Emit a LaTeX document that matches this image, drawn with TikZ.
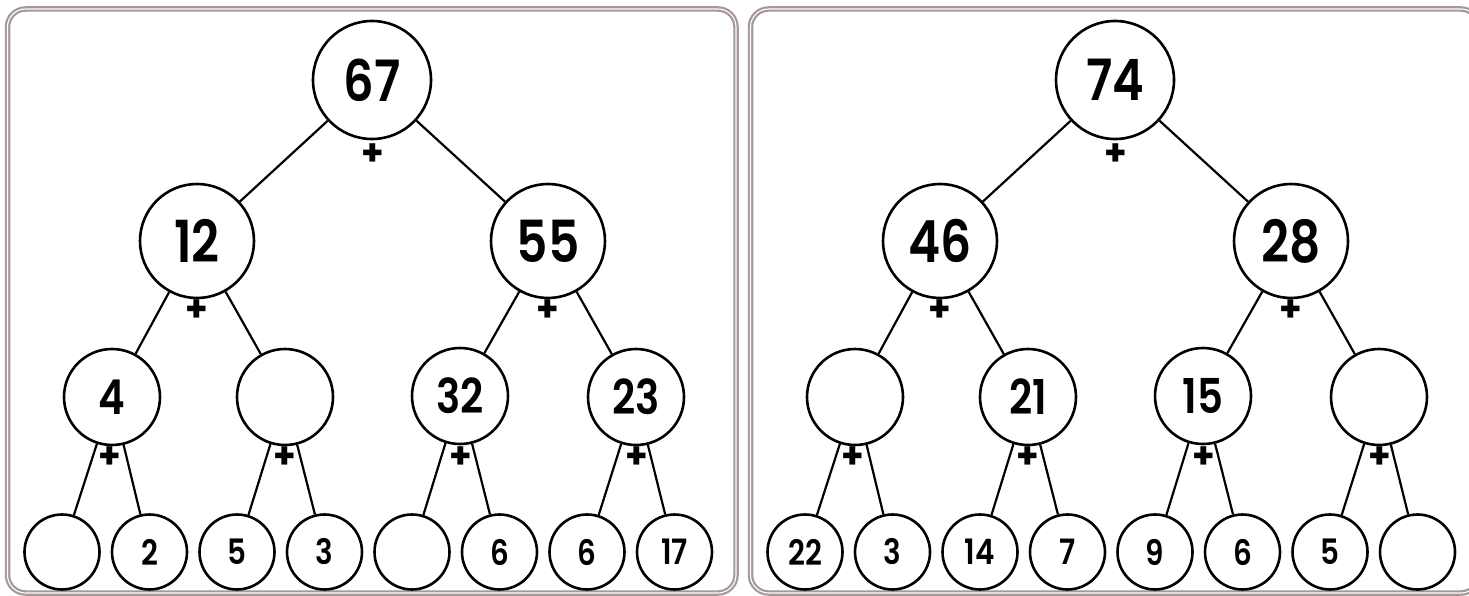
\documentclass[tikz,border=0pt]{standalone}
\usepackage{fontspec}
\newfontfamily\numfont{Poppins SemiBold}[FakeStretch=0.84]
\newfontfamily\plusfont{Poppins Bold}
\definecolor{framegray}{RGB}{165,152,152}

\begin{document}
\begin{tikzpicture}[x=1pt,y=-1pt,
  panel/.style={draw=framegray,line width=2.2pt,double=white,double distance=1.1pt,rounded corners=18pt},
  bubble/.style={circle,draw=black,line width=2.6pt,inner sep=0pt,fill=white},
  topbub/.style={bubble,minimum size=118pt,font=\numfont\fontsize{57}{57}\selectfont},
  midbub/.style={bubble,minimum size=114pt,font=\numfont\fontsize{58}{58}\selectfont},
  lowbub/.style={bubble,minimum size=96pt,font=\numfont\fontsize{48}{48}\selectfont},
  leafbub/.style={bubble,minimum size=75pt,font=\numfont\fontsize{35}{35}\selectfont},
  plus/.style={inner sep=0pt,font=\plusfont\fontsize{36}{36}\selectfont},
  edge/.style={draw=black,line width=2.2pt}]

\useasboundingbox (0,0) rectangle (1469,596);
\clip (0,0) rectangle (1469,596);
\fill[white] (0,0) rectangle (1469,596);

% the two framed panels
\draw[panel] (7.5,9) rectangle (736,593);
\draw[panel] (750.5,9) rectangle (1479,593);

% ---------- left tree ----------
\begin{scope}
  \node[topbub] (a) at (372,80) {67};
  \node[midbub] (b1) at (197,241) {12};
  \node[midbub] (b2) at (548,241) {55};
  \node[lowbub] (c1) at (112,397) {4};
  \node[lowbub] (c2) at (285,397) {};
  \node[lowbub] (c3) at (460,396) {32};
  \node[lowbub] (c4) at (636,397) {23};
  \node[leafbub] (d1) at (62,552) {};
  \node[leafbub] (d2) at (149.5,552) {2};
  \node[leafbub] (d3) at (237,552) {5};
  \node[leafbub] (d4) at (324.5,552) {3};
  \node[leafbub] (d5) at (412,552) {};
  \node[leafbub] (d6) at (499.5,552) {6};
  \node[leafbub] (d7) at (587,552) {6};
  \node[leafbub] (d8) at (674.5,552) {17};
  \foreach \p/\q in {a/b1,a/b2,b1/c1,b1/c2,b2/c3,b2/c4,c1/d1,c1/d2,c2/d3,c2/d4,c3/d5,c3/d6,c4/d7,c4/d8}
    \draw[edge] (\p) -- (\q);
  \node[plus] (pa) at (373,155) {+};
  \node[plus] (pb1) at (197,311) {+};
  \node[plus] (pb2) at (548,311) {+};
  \node[plus] (pc1) at (110,458) {+};
  \node[plus] (pc2) at (285,458) {+};
  \node[plus] (pc3) at (461,458) {+};
  \node[plus] (pc4) at (637,458) {+};
\end{scope}

% ---------- right tree ----------
\begin{scope}[xshift=743pt]
  \node[topbub] (A) at (372,80) {74};
  \node[midbub] (B1) at (197,241) {46};
  \node[midbub] (B2) at (548,241) {28};
  \node[lowbub] (C1) at (112,397) {};
  \node[lowbub] (C2) at (285,397) {21};
  \node[lowbub] (C3) at (460,396) {15};
  \node[lowbub] (C4) at (636,397) {};
  \node[leafbub] (D1) at (62,552) {22};
  \node[leafbub] (D2) at (149.5,552) {3};
  \node[leafbub] (D3) at (237,552) {14};
  \node[leafbub] (D4) at (324.5,552) {7};
  \node[leafbub] (D5) at (412,552) {9};
  \node[leafbub] (D6) at (499.5,552) {6};
  \node[leafbub] (D7) at (587,552) {5};
  \node[leafbub] (D8) at (674.5,552) {};
  \foreach \p/\q in {A/B1,A/B2,B1/C1,B1/C2,B2/C3,B2/C4,C1/D1,C1/D2,C2/D3,C2/D4,C3/D5,C3/D6,C4/D7,C4/D8}
    \draw[edge] (\p) -- (\q);
  \node[plus] (PA) at (373,155) {+};
  \node[plus] (PB1) at (197,311) {+};
  \node[plus] (PB2) at (548,311) {+};
  \node[plus] (PC1) at (110,458) {+};
  \node[plus] (PC2) at (285,458) {+};
  \node[plus] (PC3) at (461,458) {+};
  \node[plus] (PC4) at (637,458) {+};
\end{scope}
\end{tikzpicture}
\end{document}
